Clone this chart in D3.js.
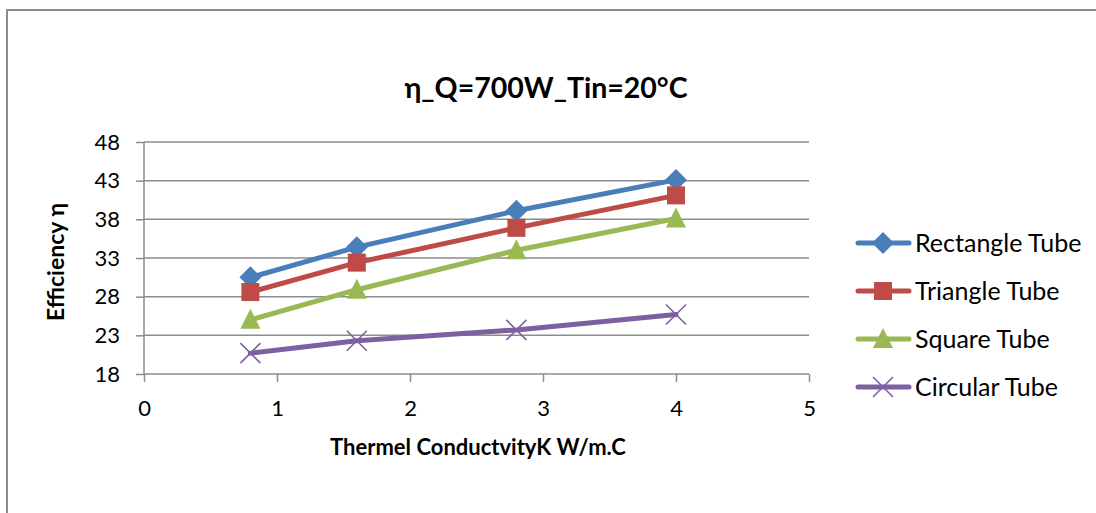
<!DOCTYPE html>
<html><head><meta charset="utf-8">
<script src="https://cdn.jsdelivr.net/npm/d3@7"></script>
<style>body{margin:0;background:#fff;} svg{display:block;} text{font-family:Lato,"Open Sans",sans-serif;fill:#000;}</style>
</head><body><svg id="c" width="1096" height="513"></svg>
<script>
const xValues = [0.8, 1.6, 2.8, 4];
const seriesNames = ["Rectangle Tube", "Triangle Tube", "Square Tube", "Circular Tube"];
const rectangle = [30.5, 34.4, 39.1, 43.1];
const triangle = [28.6, 32.4, 36.9, 41.1];
const square = [25.0, 28.9, 34.0, 38.1];
const circular = [20.7, 22.3, 23.7, 25.7];
const colors = ["#4a7ebb", "#be4b48", "#98b954", "#7d60a0"];
const symbols = ["diamond", "square", "triangle", "cross"];
const xTicks = [0, 1, 2, 3, 4, 5];
const yTicks = [18, 23, 28, 33, 38, 43, 48];
const title = "η_Q=700W_Tin=20°C";
const xTitle = "Thermel ConductvityK W/m.C";
const yTitle = "Efficiency η";

const allSeries = [rectangle, triangle, square, circular];
const svg = d3.select("#c");
svg.append("rect").attr("x",7).attr("y",10).attr("width",1100).attr("height",520)
  .attr("fill","none").attr("stroke","#8c8c8c").attr("stroke-width",2);

const x = d3.scaleLinear().domain([0,5]).range([144,809]);
const y = d3.scaleLinear().domain([18,48]).range([374,142]);

// gridlines
svg.append("g").selectAll("line").data(yTicks.slice(1)).join("line")
  .attr("x1",x(0)).attr("x2",x(5)).attr("y1",d=>y(d)).attr("y2",d=>y(d))
  .attr("stroke","#8c8c8c").attr("stroke-width",1.5);

const xa = svg.append("g").attr("transform",`translate(0,${y(18)})`)
  .call(d3.axisBottom(x).tickValues(xTicks).tickSize(8).tickPadding(18).tickFormat(d3.format("d")));
const ya = svg.append("g").attr("transform",`translate(${x(0)},0)`)
  .call(d3.axisLeft(y).tickValues(yTicks).tickSize(8).tickPadding(16).tickFormat(d3.format("d")));
[xa,ya].forEach(a=>{
  a.select(".domain").attr("stroke","#8c8c8c").attr("stroke-width",1.5);
  a.selectAll(".tick line").attr("stroke","#8c8c8c").attr("stroke-width",1.5);
  a.selectAll(".tick text").attr("font-size",22).attr("font-family","Lato,sans-serif").attr("fill","#000");
});
ya.select(".domain").attr("d",`M0,${y(18)}V${y(48)}`);
xa.select(".domain").attr("d",`M${x(0)},0H${x(5)}`);

function marker(g, sym, color, cx, cy){
  if(sym==="diamond"){
    g.append("path").attr("d",`M${cx},${cy-11}L${cx+11},${cy}L${cx},${cy+11}L${cx-11},${cy}Z`).attr("fill",color);
  } else if(sym==="square"){
    g.append("rect").attr("x",cx-9).attr("y",cy-9).attr("width",18).attr("height",18).attr("fill",color);
  } else if(sym==="triangle"){
    g.append("path").attr("d",`M${cx},${cy-11}L${cx+10},${cy+9}L${cx-10},${cy+9}Z`).attr("fill",color);
  } else {
    g.append("path").attr("d",`M${cx-10},${cy-10}L${cx+10},${cy+10}M${cx-10},${cy+10}L${cx+10},${cy-10}`)
      .attr("stroke",color).attr("stroke-width",1.6).attr("fill","none");
  }
}

const line = d3.line().x(d=>x(d[0])).y(d=>y(d[1]));
allSeries.forEach((vals,i)=>{
  const pts = xValues.map((xv,j)=>[xv, vals[j]]);
  const g = svg.append("g");
  g.append("path").datum(pts).attr("d",line).attr("fill","none")
    .attr("stroke",colors[i]).attr("stroke-width",5).attr("stroke-linejoin","round").attr("stroke-linecap","round");
  pts.forEach(p=>marker(g, symbols[i], colors[i], x(p[0]), y(p[1])));
});

// legend
const ly = [243, 291, 339, 387];
seriesNames.forEach((n,i)=>{
  const g = svg.append("g");
  g.append("line").attr("x1",858).attr("x2",909).attr("y1",ly[i]).attr("y2",ly[i])
    .attr("stroke",colors[i]).attr("stroke-width",5).attr("stroke-linecap","round");
  marker(g, symbols[i], colors[i], 883, ly[i]);
  g.append("text").attr("x",915).attr("y",ly[i]).attr("dy","0.36em").attr("font-size",25).text(n);
});

svg.append("text").attr("x",546).attr("y",98).attr("text-anchor","middle")
  .attr("font-size",28.5).attr("font-weight","bold").text(title);
svg.append("text").attr("x",478).attr("y",455).attr("text-anchor","middle")
  .attr("font-size",22).attr("font-weight","bold").text(xTitle);
svg.append("text").attr("transform","translate(64,262) rotate(-90)").attr("text-anchor","middle")
  .attr("font-size",23).attr("font-weight","bold").text(yTitle);
</script></body></html>
